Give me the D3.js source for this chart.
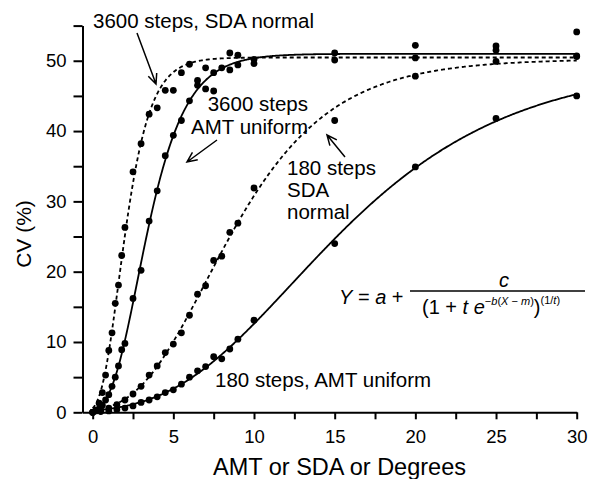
<!DOCTYPE html>
<html>
<head>
<meta charset="utf-8">
<script src="https://cdn.jsdelivr.net/npm/d3@7"></script>
<style>
  html, body { margin: 0; padding: 0; background: #fff; }
  text { font-family: "Liberation Sans", Arial, Helvetica, sans-serif; fill: #000; }
</style>
</head>
<body>
<script>
// ---------------- data ----------------
const xTicks = [0, 2.5, 5, 7.5, 10, 12.5, 15, 17.5, 20, 22.5, 25, 27.5, 30];
const yTicks = [0, 5, 10, 15, 20, 25, 30, 35, 40, 45, 50, 55];

const sda3600X = [0, 0.2, 0.4, 0.6, 0.8, 1.0, 1.2, 1.4, 1.6, 1.8, 2.0, 2.5, 3.0, 3.5, 4.0, 4.5, 5.0, 5.5, 6.0, 8.5, 9.0, 10, 15, 20, 25, 30];
const sda3600Y = [0, 0.3, 1.3, 2.8, 5.3, 8.8, 11.3, 15.5, 18.1, 22.3, 26.3, 34.2, 38.2, 42.4, 43.3, 45.8, 45.8, 48.3, 49.5, 51.1, 50.8, 50.2, 50.1, 50.4, 51.5, 54.1];

const amt3600X = [0, 0.2, 0.4, 0.6, 0.8, 1.0, 1.2, 1.4, 1.6, 1.8, 2.0, 2.5, 3.0, 3.5, 4.0, 4.5, 5.0, 5.5, 6.0, 6.5, 6.5, 7.0, 7.0, 7.5, 7.5, 8.0, 8.5, 9.0, 10, 15, 20, 25, 30];
const amt3600Y = [0, 0.2, 0.5, 1.0, 1.75, 2.5, 3.7, 5.0, 6.6, 8.9, 9.8, 16.2, 20.2, 27.2, 31.5, 36.5, 39.4, 41.5, 44.3, 47.2, 46.5, 46.0, 49.0, 45.7, 48.3, 49.0, 48.7, 49.4, 49.6, 51.1, 52.2, 52.1, 50.6];

const sda180X = [0, 0.5, 1.0, 1.5, 2.0, 2.5, 3.0, 3.5, 4.0, 4.5, 5.0, 5.5, 6.0, 6.5, 7.0, 7.5, 8.0, 8.5, 9.0, 10, 15, 20, 25, 30];
const sda180Y = [0, 0.3, 0.6, 1.1, 1.75, 2.6, 3.7, 5.3, 6.6, 8.5, 9.7, 11.3, 13.8, 16.8, 18.0, 21.6, 22.2, 25.6, 26.9, 31.9, 41.5, 47.8, 49.9, 50.7];

const amt180X = [0, 0.5, 1.0, 1.5, 2.0, 2.5, 3.0, 3.5, 4.0, 4.5, 5.0, 5.5, 6.0, 6.5, 7.0, 7.5, 8.0, 8.5, 9.0, 10, 15, 20, 25, 30];
const amt180Y = [0, 0.1, 0.2, 0.4, 0.6, 0.9, 1.4, 1.75, 2.2, 2.8, 3.2, 4.0, 5.0, 5.9, 6.5, 7.9, 7.6, 9.0, 10.4, 13.1, 24.0, 34.9, 41.8, 45.0];

// starting guesses for the Richards fit [c, b, m, t]
const seriesList = [
  { name: "3600 steps, SDA normal", xs: sda3600X, ys: sda3600Y, dashed: true,  guess: [51, 1.5, 2.0, 1] },
  { name: "3600 steps, AMT uniform", xs: amt3600X, ys: amt3600Y, dashed: false, guess: [51, 1.0, 3.5, 1] },
  { name: "180 steps, SDA normal",  xs: sda180X,  ys: sda180Y,  dashed: true,  guess: [51, 0.35, 8, 1] },
  { name: "180 steps, AMT uniform", xs: amt180X,  ys: amt180Y,  dashed: false, guess: [51, 0.18, 15, 1] }
];

// ---------------- Richards curve fitted to the dots ----------------
function richards(p, x) {
  const [c, b, m, t] = p;
  return c / Math.pow(1 + t * Math.exp(-b * (x - m)), 1 / t);
}
function unpack(q) { return [q[0], Math.exp(q[1]), q[2], Math.exp(q[3])]; }

function nelderMead(f, x0, steps, iters) {
  const n = x0.length;
  let S = [x0.slice()];
  for (let i = 0; i < n; i++) { const p = x0.slice(); p[i] += steps[i]; S.push(p); }
  let V = S.map(f);
  for (let k = 0; k < iters; k++) {
    const idx = d3.range(n + 1).sort((a, b) => V[a] - V[b]);
    S = idx.map(i => S[i]); V = idx.map(i => V[i]);
    const cen = new Array(n).fill(0);
    for (let i = 0; i < n; i++) for (let j = 0; j < n; j++) cen[j] += S[i][j] / n;
    const w = S[n];
    const xr = cen.map((c, j) => c + (c - w[j])), fr = f(xr);
    if (fr < V[0]) {
      const xe = cen.map((c, j) => c + 2 * (c - w[j])), fe = f(xe);
      if (fe < fr) { S[n] = xe; V[n] = fe; } else { S[n] = xr; V[n] = fr; }
    } else if (fr < V[n - 1]) { S[n] = xr; V[n] = fr; }
    else {
      const xc = fr < V[n] ? cen.map((c, j) => c + 0.5 * (xr[j] - c)) : cen.map((c, j) => c + 0.5 * (w[j] - c));
      const fc = f(xc);
      if (fc < Math.min(fr, V[n])) { S[n] = xc; V[n] = fc; }
      else {
        for (let i = 1; i <= n; i++) { S[i] = S[i].map((v, j) => S[0][j] + 0.5 * (v - S[0][j])); V[i] = f(S[i]); }
      }
    }
  }
  let bi = 0; for (let i = 1; i <= n; i++) if (V[i] < V[bi]) bi = i;
  return S[bi];
}

function fit(s) {
  const obj = q => {
    const p = unpack(q);
    let e = 0;
    for (let i = 0; i < s.xs.length; i++) {
      const r = richards(p, s.xs[i]) - s.ys[i];
      e += r * r;
    }
    return isFinite(e) ? e : 1e12;
  };
  let q = [s.guess[0], Math.log(s.guess[1]), s.guess[2], Math.log(s.guess[3])];
  for (let r = 0; r < 4; r++) q = nelderMead(obj, q, [3, 0.3, 1, 0.5], 1500);
  return unpack(q);
}

// ---------------- chart ----------------
const W = 603, H = 479;
const svg = d3.select("body").append("svg").attr("width", W).attr("height", H);

const x = d3.scaleLinear().domain([-0.63, 30]).range([82.5, 576.7]);
const y = d3.scaleLinear().domain([0, 55]).range([412.3, 25.6]);

// axes
const gx = svg.append("g").attr("transform", `translate(0,${y(0)})`)
  .call(d3.axisBottom(x).tickValues(xTicks).tickSize(7).tickSizeOuter(0).tickPadding(11)
    .tickFormat(d => d % 5 === 0 ? d : ""));
const gy = svg.append("g").attr("transform", `translate(${x.range()[0]},0)`)
  .call(d3.axisLeft(y).tickValues(yTicks).tickSize(9).tickSizeOuter(0).tickPadding(7)
    .tickFormat(d => d % 10 === 0 ? d : ""));
[gx, gy].forEach(g => {
  g.select(".domain").attr("stroke", "#000").attr("stroke-width", 2);
  g.selectAll(".tick line").attr("stroke", "#000").attr("stroke-width", 2);
  g.selectAll(".tick text").attr("font-size", 18.5).attr("fill", "#000")
    .style("font-family", '"Liberation Sans", Arial, sans-serif');
});

// fitted curves
const grid = d3.range(0, 30.0001, 0.05);
const line = d3.line().x(d => x(d[0])).y(d => y(d[1]));
seriesList.forEach(s => {
  const p = fit(s);
  svg.append("path")
    .datum(grid.map(g => [g, richards(p, g)]))
    .attr("d", line)
    .attr("fill", "none")
    .attr("stroke", "#000")
    .attr("stroke-width", 1.8)
    .attr("stroke-dasharray", s.dashed ? "4,3" : null);
});

// dots
seriesList.forEach(s => {
  svg.append("g").selectAll("circle")
    .data(s.xs.map((v, i) => [v, s.ys[i]]))
    .join("circle")
    .attr("cx", d => x(d[0]))
    .attr("cy", d => y(d[1]))
    .attr("r", 3.4)
    .attr("fill", "#000");
});

// axis titles
svg.append("text").attr("x", 339.5).attr("y", 475).attr("text-anchor", "middle")
  .attr("font-size", 23.5).text("AMT or SDA or Degrees");
svg.append("text").attr("transform", "translate(31,234) rotate(-90)").attr("text-anchor", "middle")
  .attr("font-size", 21).text("CV (%)");

// annotations
const ann = svg.append("g").attr("font-size", 20.5);
ann.append("text").attr("x", 93).attr("y", 28).text("3600 steps, SDA normal");
ann.append("text").attr("x", 308).attr("y", 111).attr("text-anchor", "end").text("3600 steps");
ann.append("text").attr("x", 308).attr("y", 134).attr("text-anchor", "end").text("AMT uniform");
ann.append("text").attr("x", 287).attr("y", 175).text("180 steps");
ann.append("text").attr("x", 287).attr("y", 197).text("SDA");
ann.append("text").attr("x", 287).attr("y", 219).text("normal");
ann.append("text").attr("x", 215).attr("y", 387).text("180 steps, AMT uniform");

function arrow(x1, y1, x2, y2) {
  const a = Math.atan2(y2 - y1, x2 - x1), L = 11, sp = 0.42;
  const p = d3.path();
  p.moveTo(x1, y1); p.lineTo(x2, y2);
  p.moveTo(x2 - L * Math.cos(a - sp), y2 - L * Math.sin(a - sp));
  p.lineTo(x2, y2);
  p.lineTo(x2 - L * Math.cos(a + sp), y2 - L * Math.sin(a + sp));
  svg.append("path").attr("d", p.toString()).attr("fill", "none")
    .attr("stroke", "#000").attr("stroke-width", 1.5);
}
arrow(137, 33, 156, 84);
arrow(217, 140, 187, 162);
arrow(345, 157, 327, 135);

// equation
const eq = svg.append("g").attr("font-size", 20);
const t1 = eq.append("text").attr("x", 339).attr("y", 304);
t1.append("tspan").attr("font-style", "italic").text("Y");
t1.append("tspan").text(" = ");
t1.append("tspan").attr("font-style", "italic").text("a");
t1.append("tspan").text(" +");
eq.append("text").attr("x", 504).attr("y", 287).attr("text-anchor", "middle")
  .attr("font-style", "italic").text("c");
eq.append("line").attr("x1", 410).attr("x2", 585).attr("y1", 291).attr("y2", 291)
  .attr("stroke", "#000").attr("stroke-width", 1.5);
const t2 = eq.append("text").attr("x", 422).attr("y", 314);
t2.append("tspan").text("(1 + ");
t2.append("tspan").attr("font-style", "italic").text("t e");
const sup1 = t2.append("tspan").attr("font-size", 11).attr("dy", -9);
sup1.append("tspan").text("\u2212");
sup1.append("tspan").attr("font-style", "italic").text("b");
sup1.append("tspan").text("(");
sup1.append("tspan").attr("font-style", "italic").text("X");
sup1.append("tspan").text(" \u2212 ");
sup1.append("tspan").attr("font-style", "italic").text("m");
sup1.append("tspan").text(")");
t2.append("tspan").attr("dy", 9).text(")");
const sup2 = t2.append("tspan").attr("font-size", 11).attr("dy", -10);
sup2.append("tspan").text("(1/");
sup2.append("tspan").attr("font-style", "italic").text("t");
sup2.append("tspan").text(")");
</script>
</body>
</html>
